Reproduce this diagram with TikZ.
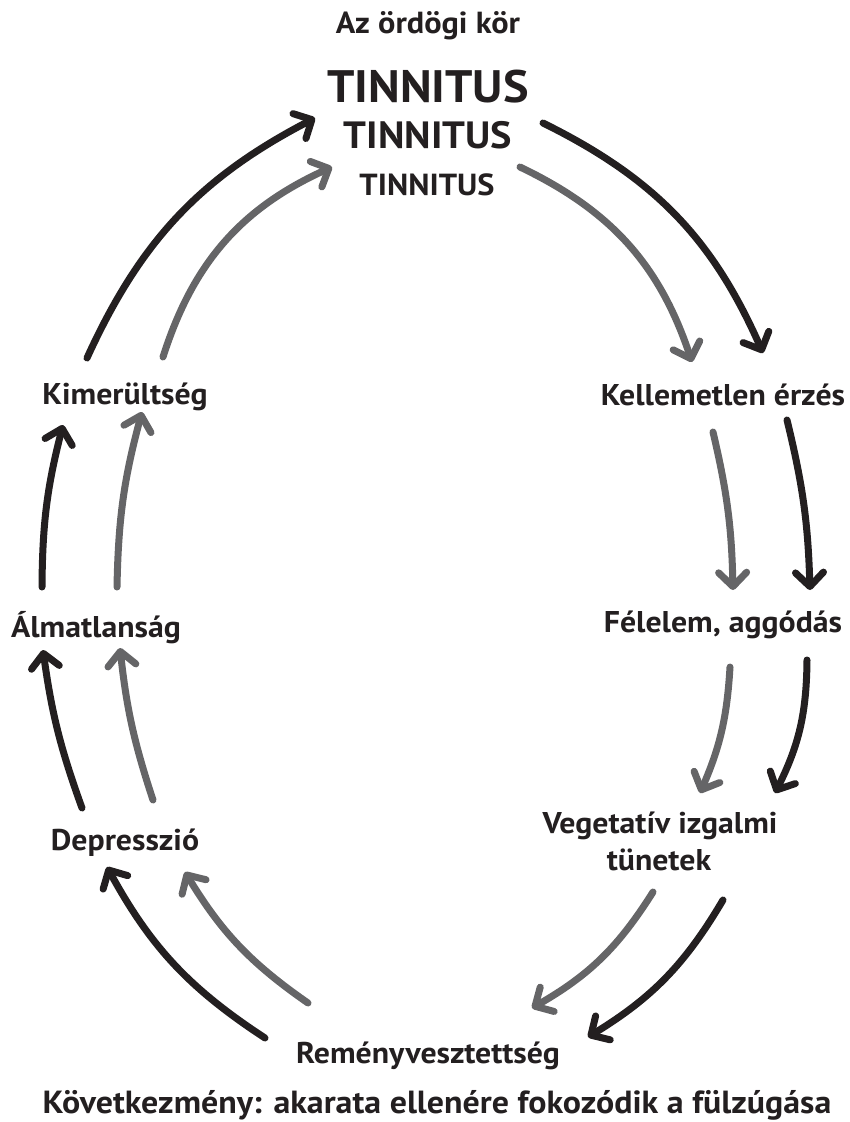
\documentclass[tikz,border=0pt]{standalone}
\usepackage{fontspec}
\setmainfont{PT Sans}[FakeStretch=1.06]
\usetikzlibrary{arrows.meta}
\definecolor{ink}{HTML}{231F20}
\definecolor{ash}{HTML}{656567}
\tikzset{
  lbl/.style={anchor=base, inner sep=0pt, font=\bfseries\fontsize{30}{36}\selectfont, text=ink},
  cyc/.style={line width=7pt, line cap=round, line join=round,
    -{Straight Barb[length=14pt,width=28pt,round]}},
  blk/.style={cyc, draw=ink},
  gry/.style={cyc, draw=ash},
}
\begin{document}
\begin{tikzpicture}[x=1pt,y=-1pt]
\useasboundingbox (0,0) rectangle (849,1122);
% texts
\node[lbl, font=\bfseries\fontsize{30.5}{36}\selectfont] (title) at (428,33) {Az ördögi kör};
\node[lbl, font=\bfseries\fontsize{45.5}{54}\selectfont] (t1) at (428,102) {TINNITUS};
\node[lbl, font=\bfseries\fontsize{38}{46}\selectfont] (t2) at (428,148) {TINNITUS};
\node[lbl, font=\bfseries\fontsize{30.5}{37}\selectfont] (t3) at (427,195) {TINNITUS};
\node[lbl] (kell) at (723,405) {Kellemetlen érzés};
\node[lbl] (fel) at (723,632) {Félelem, aggódás};
\node[lbl] (veg1) at (660,833) {Vegetatív izgalmi};
\node[lbl] (veg2) at (659,870) {tünetek};
\node[lbl] (rem) at (428,1063) {Reményvesztettség};
\node[lbl] (dep) at (125,850) {Depresszió};
\node[lbl] (alm) at (96,637) {Álmatlanság};
\node[lbl] (kim) at (125,404) {Kimerültség};
\node[lbl, font=\bfseries\fontsize{32}{38}\selectfont] (cons) at (437,1113) {Következmény: akarata ellenére fokozódik a fülzúgása};
% arrow end points
\coordinate (a1s) at (87,358);  \coordinate (a1e) at (315,118);
\coordinate (a2s) at (163,357); \coordinate (a2e) at (332,167);
\coordinate (a3s) at (543,123); \coordinate (a3e) at (763,353);
\coordinate (a4s) at (520,167); \coordinate (a4e) at (692,362);
\coordinate (a5s) at (787,420); \coordinate (a5e) at (810,590);
\coordinate (a6s) at (713,432); \coordinate (a6e) at (733,590);
\coordinate (a7s) at (807,660); \coordinate (a7e) at (775,793);
\coordinate (a8s) at (730,667); \coordinate (a8e) at (700,793);
\coordinate (a9s) at (723,900); \coordinate (a9e) at (588,1037);
\coordinate (a10s) at (653,892); \coordinate (a10e) at (532,1008);
\coordinate (a11s) at (265,1038); \coordinate (a11e) at (107,867);
\coordinate (a12s) at (308,1003); \coordinate (a12e) at (185,872);
\coordinate (a13s) at (82,808); \coordinate (a13e) at (43,650);
\coordinate (a14s) at (153,800); \coordinate (a14e) at (120,648);
\coordinate (a15s) at (42,587); \coordinate (a15e) at (63,425);
\coordinate (a16s) at (117,587); \coordinate (a16e) at (142,412);
% arrows
\draw[blk] (a1s) to[bend left=19] (a1e);
\draw[gry] (a2s) to[bend left=24] (a2e);
\draw[blk] (a3s) to[bend left=20] (a3e);
\draw[gry] (a4s) to[bend left=23] (a4e);
\draw[blk] (a5s) to[bend left=6] (a5e);
\draw[gry] (a6s) to[bend left=6] (a6e);
\draw[blk] (a7s) to[bend left=13] (a7e);
\draw[gry] (a8s) to[bend left=10] (a8e);
\draw[blk] (a9s) to[bend left=14] (a9e);
\draw[gry] (a10s) to[bend left=14] (a10e);
\draw[blk] (a11s) to[bend left=14] (a11e);
\draw[gry] (a12s) to[bend left=12] (a12e);
\draw[blk] (a13s) to[bend left=6] (a13e);
\draw[gry] (a14s) to[bend left=6] (a14e);
\draw[blk] (a15s) to[bend left=7] (a15e);
\draw[gry] (a16s) to[bend left=7] (a16e);
\end{tikzpicture}
\end{document}
